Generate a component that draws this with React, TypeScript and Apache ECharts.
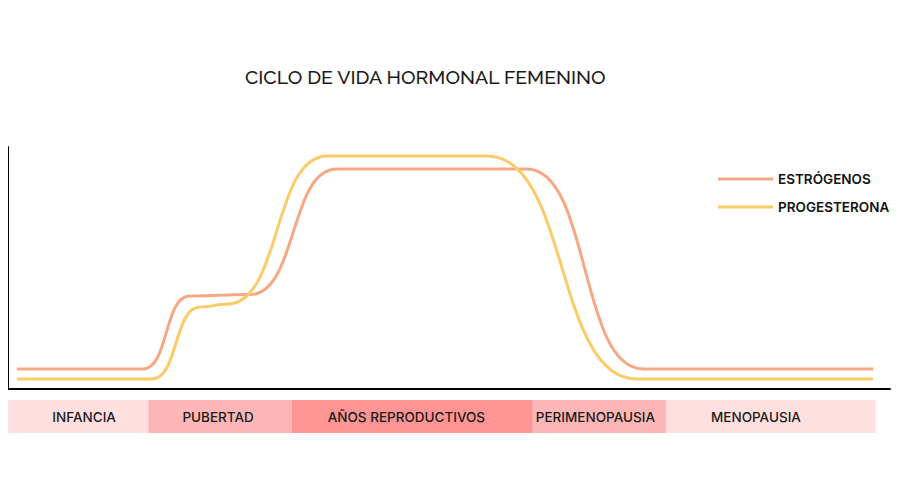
import React, { useEffect, useRef } from "react";
import * as echarts from "echarts";

const titleText = "CICLO DE VIDA HORMONAL FEMENINO";
const seriesNames = ["ESTRÓGENOS", "PROGESTERONA"];
// x: relative life position (0-100), y: relative hormone level (0-100)
const estrogenX = [1.0, 15.3, 20.6, 27.4, 37.3, 58.8, 72.0, 98.1];
const estrogenY = [8.3, 8.3, 38.4, 39.0, 90.9, 90.9, 8.3, 8.3];
const progesteronaX = [1.0, 16.3, 21.8, 24.8, 36.2, 54.3, 71.3, 98.1];
const progesteronaY = [4.1, 4.1, 33.9, 35.0, 96.3, 96.3, 4.1, 4.1];
const phaseNames = ["INFANCIA", "PUBERTAD", "AÑOS REPRODUCTIVOS", "PERIMENOPAUSIA", "MENOPAUSIA"];
const phaseBounds = [0, 15.9, 32.2, 59.5, 74.6, 98.4];
const phaseColors = ["#FFDFE0", "#FDB6B6", "#FD9595", "#FDB6B6", "#FFE0E1"];
const phaseLabelShift = [6, -2, -6, -4, -15];
const lineColors = ["#F6A885", "#FBCB68"];

export default function App() {
  const ref = useRef<HTMLDivElement>(null);
  useEffect(() => {
    if (!ref.current) return;
    const chart = echarts.init(ref.current, null, { renderer: "svg" });
    const font = "Inter, 'Noto Sans', sans-serif";
    const zip = (xs: number[], ys: number[]) => xs.map((x, i) => [x, ys[i]]);
    chart.setOption({
      animation: false,
      backgroundColor: "#ffffff",
      title: {
        text: titleText,
        left: 240,
        top: 62,
        textStyle: { fontFamily: "Raleway, 'Open Sans', sans-serif", fontSize: 19.5, fontWeight: 500, color: "#1a1a1a" },
      },
      legend: {
        orient: "vertical",
        left: 713,
        top: 167,
        itemWidth: 55,
        itemHeight: 3,
        itemGap: 14,
        icon: "rect",
        data: seriesNames,
        textStyle: { fontFamily: font, fontSize: 13.5, fontWeight: 600, color: "#111" },
      },
      grid: [
        { left: 8, right: 10, top: 147, bottom: 111 },
        { left: 8, right: 10, top: 400, height: 33 },
      ],
      xAxis: [
        {
          type: "value", gridIndex: 0, min: 0, max: 100,
          axisLine: { show: true, lineStyle: { color: "#000", width: 2 } },
          axisTick: { show: false }, axisLabel: { show: false }, splitLine: { show: false },
        },
        { type: "value", gridIndex: 1, min: 0, max: 100, show: false },
      ],
      yAxis: [
        {
          type: "value", gridIndex: 0, min: 0, max: 100,
          axisLine: { show: true, lineStyle: { color: "#000", width: 2 } },
          axisTick: { show: false }, axisLabel: { show: false }, splitLine: { show: false },
        },
        { type: "value", gridIndex: 1, min: 0, max: 1, show: false },
      ],
      series: [
        {
          name: seriesNames[0], type: "line", xAxisIndex: 0, yAxisIndex: 0,
          data: zip(estrogenX, estrogenY), smooth: 0.55, smoothMonotone: "x",
          showSymbol: false, symbol: "none",
          itemStyle: { color: lineColors[0] },
          lineStyle: { color: lineColors[0], width: 3 },
        },
        {
          name: seriesNames[1], type: "line", xAxisIndex: 0, yAxisIndex: 0,
          data: zip(progesteronaX, progesteronaY), smooth: 0.55, smoothMonotone: "x",
          showSymbol: false, symbol: "none",
          itemStyle: { color: lineColors[1] },
          lineStyle: { color: lineColors[1], width: 3 },
        },
        {
          type: "line", xAxisIndex: 1, yAxisIndex: 1, data: [], silent: true,
          markArea: {
            silent: true,
            data: phaseNames.map((name, i) => [
              {
                name,
                xAxis: phaseBounds[i], yAxis: 0,
                itemStyle: { color: phaseColors[i], opacity: 1 },
                label: {
                  show: true, position: "inside", color: "#1a1a1a",
                  fontFamily: font, fontSize: 13.5, fontWeight: 500,
                  offset: [phaseLabelShift[i], 0],
                },
              },
              { xAxis: phaseBounds[i + 1], yAxis: 1 },
            ]),
          },
        },
      ],
    });
    return () => chart.dispose();
  }, []);
  return <div ref={ref} style={{ width: 900, height: 500, margin: -8 }} />;
}
